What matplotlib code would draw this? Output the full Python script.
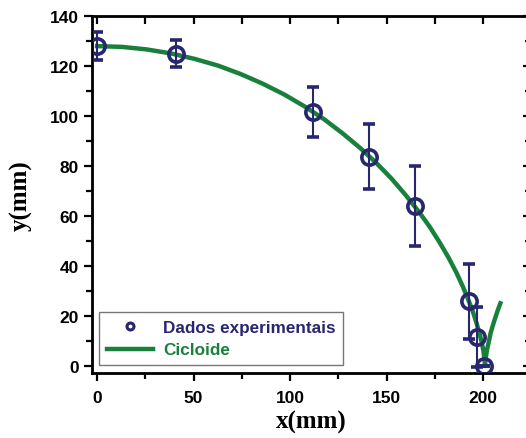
import matplotlib
matplotlib.use('Agg')
import matplotlib.pyplot as plt
from matplotlib.ticker import MultipleLocator

x_exp = [0, 41, 112, 141, 165, 193, 197, 200.7]
y_exp = [128, 125, 101.6, 83.8, 64, 26, 11.5, 0]
y_err = [5.5, 5.5, 10, 13, 16, 15, 12, 0]

# curva cicloide
x_cic = [0, 12.8, 25.5, 38.1, 50.5, 62.7, 74.5, 86.0, 97.1, 107.7, 117.9, 127.4,
         136.4, 144.9, 152.7, 159.8, 166.4, 172.3, 177.5, 182.2, 186.2, 189.6,
         192.5, 194.9, 196.8, 198.3, 199.4, 200.2, 200.6, 200.9, 201.0, 201.1,
         201.1, 201.2, 201.6, 202.1, 203.0, 204.0, 205.6, 207.6, 209.0]
y_cic = [128, 127.7, 126.7, 125.1, 122.9, 120.2, 116.8, 112.9, 108.6, 103.8, 98.6, 93.0,
         87.2, 81.1, 74.9, 68.5, 62.1, 55.8, 49.5, 43.3, 37.4, 31.7,
         26.3, 21.4, 16.8, 12.7, 9.2, 6.1, 3.7, 1.9, 0.6, 0,
         0.8, 2.1, 4.1, 6.6, 9.7, 13.4, 17.5, 22.2, 25.1]

navy = '#28266f'
green = '#18803b'

fig = plt.figure(figsize=(5.26, 4.39), dpi=100)
ax = fig.add_axes([0.175, 0.148, 0.8346, 0.813])

ax.plot(x_cic, y_cic, color=green, lw=3.2, label='Cicloide', zorder=2,
        solid_joinstyle='round')
ax.errorbar(x_exp, y_exp, yerr=y_err, fmt='o', ms=11, mfc='none', mec=navy, mew=2.6,
            ecolor=navy, elinewidth=1.5, capsize=4, capthick=1.5, zorder=3)
ax.plot([], [], 'o', ms=5, mfc='none', mec=navy, mew=2.2, label='Dados experimentais')

ax.set_xlim(-2.6, 224.9)
ax.set_ylim(-2.8, 140)
ax.xaxis.set_major_locator(MultipleLocator(50))
ax.xaxis.set_minor_locator(MultipleLocator(25))
ax.yaxis.set_major_locator(MultipleLocator(20))
ax.yaxis.set_minor_locator(MultipleLocator(10))

for s in ax.spines.values():
    s.set_linewidth(2)
ax.tick_params(which='both', direction='out', width=1.6, top=False, right=False)
ax.tick_params(which='major', length=6, labelsize=12.5)
ax.tick_params(which='minor', length=4)
ax.tick_params(axis='x', which='major', pad=6)
for lab in ax.get_xticklabels() + ax.get_yticklabels():
    lab.set_fontweight('bold')
    lab.set_family('Liberation Sans')

# ticks internos no topo e na direita
ax2 = ax.twinx()
ax2.set_ylim(ax.get_ylim())
ax2.yaxis.set_major_locator(MultipleLocator(20))
ax2.yaxis.set_minor_locator(MultipleLocator(10))
ax2.tick_params(which='both', direction='in', width=1.6, labelright=False)
ax2.tick_params(which='major', length=6)
ax2.tick_params(which='minor', length=4)
ax3 = ax.twiny()
ax3.set_xlim(ax.get_xlim())
ax3.xaxis.set_major_locator(MultipleLocator(50))
ax3.xaxis.set_minor_locator(MultipleLocator(25))
ax3.tick_params(which='both', direction='in', width=1.6, labeltop=False)
ax3.tick_params(which='major', length=6)
ax3.tick_params(which='minor', length=6)

ax.set_xlabel('x(mm)', fontsize=18, fontweight='bold', family='Liberation Serif', labelpad=4)
ax.set_ylabel('y(mm)', fontsize=18, fontweight='bold', family='Liberation Serif', labelpad=12)

h, l = ax.get_legend_handles_labels()
leg = ax.legend(h[::-1], l[::-1], loc='lower left', bbox_to_anchor=(0.016, 0.022),
                borderaxespad=0,
                prop={'family': 'Liberation Sans', 'weight': 'bold', 'size': 12.3},
                frameon=True, fancybox=False, edgecolor='#555555', handlelength=2.7,
                borderpad=0.45, labelspacing=0.45, handletextpad=0.6)
leg.get_frame().set_linewidth(1.0)
leg.get_texts()[0].set_color(navy)
leg.get_texts()[1].set_color(green)
leg.set_zorder(1)

plt.savefig('out.png', dpi=100)
